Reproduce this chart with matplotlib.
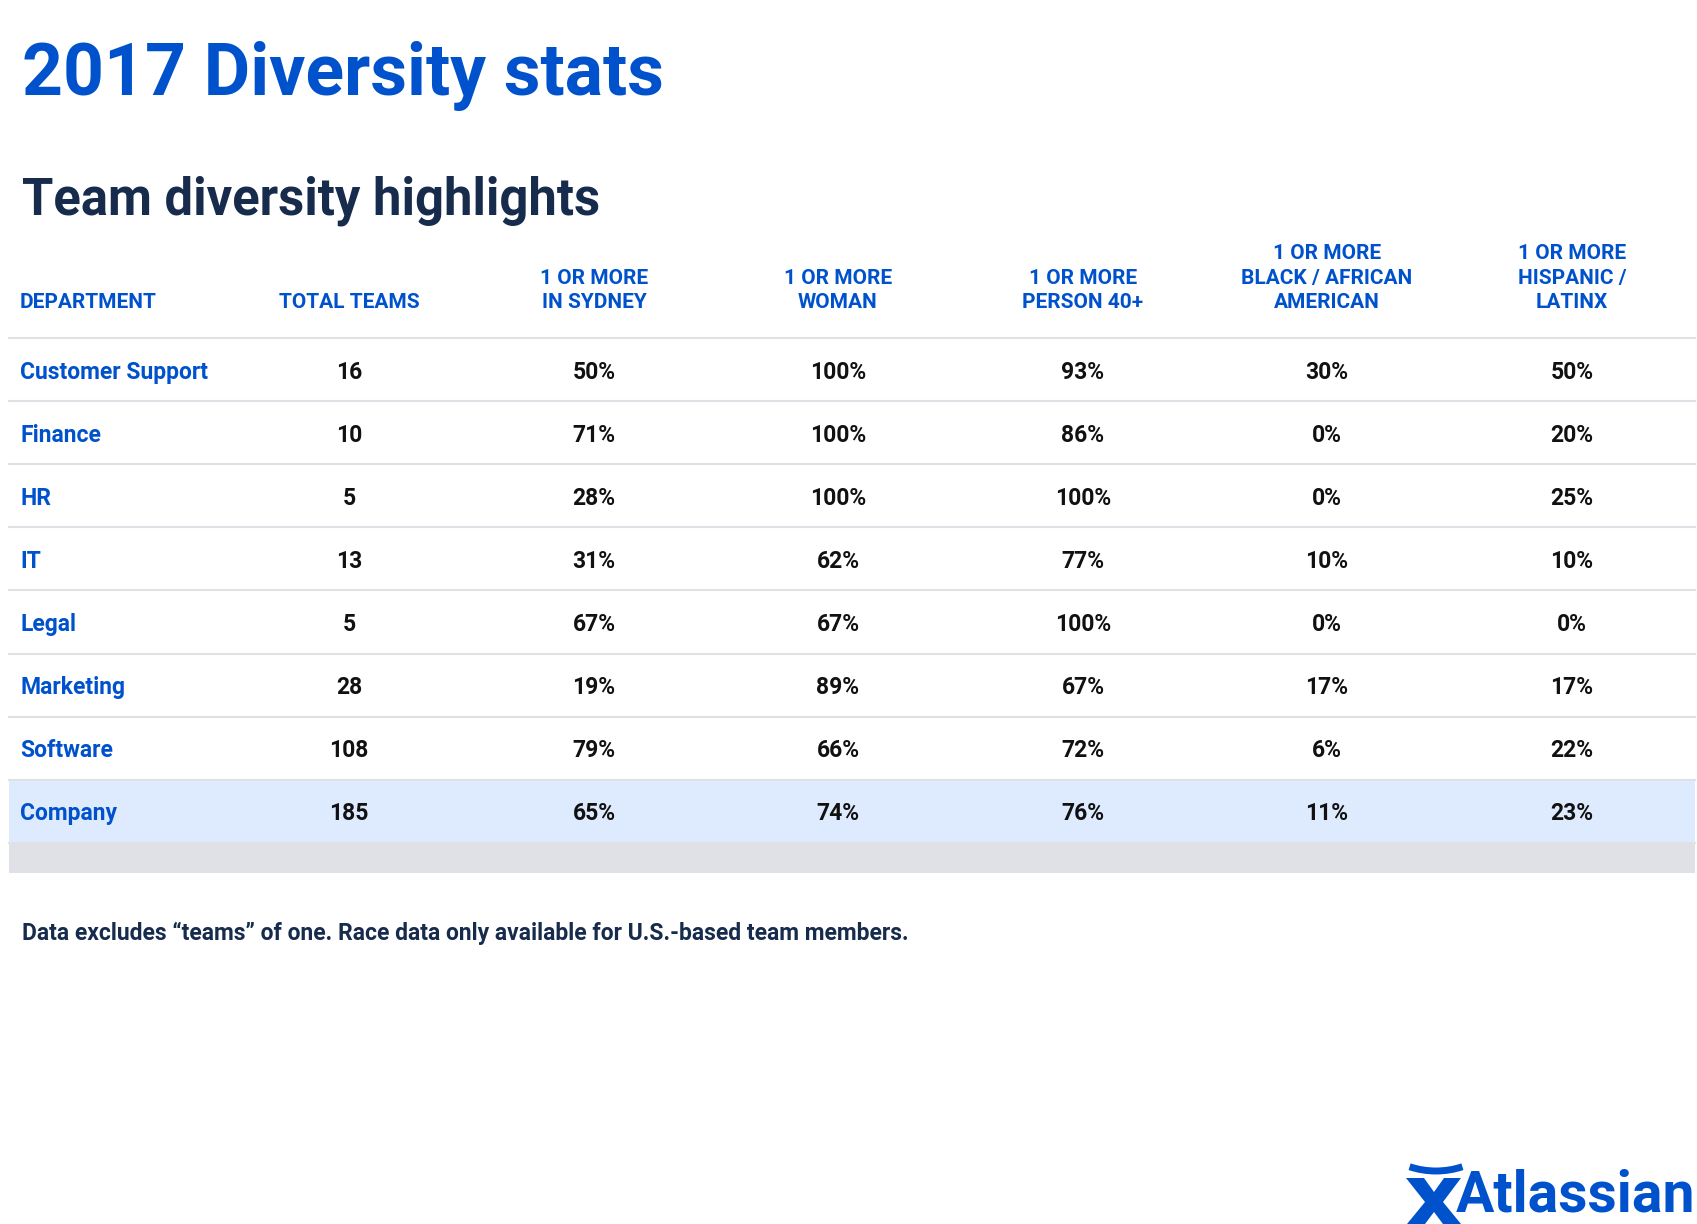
import matplotlib
matplotlib.use("Agg")
import matplotlib.pyplot as plt
from matplotlib.patches import Rectangle, Arc, Polygon

plt.rcParams['font.family'] = ['Roboto', 'DejaVu Sans']

# --- data ---
departments = ["Customer Support", "Finance", "HR", "IT", "Legal",
               "Marketing", "Software", "Company"]
total_teams = [16, 10, 5, 13, 5, 28, 108, 185]
in_sydney = [50, 71, 28, 31, 67, 19, 79, 65]
woman = [100, 100, 100, 62, 67, 89, 66, 74]
person_40 = [93, 86, 100, 77, 100, 67, 72, 76]
black_african_american = [30, 0, 0, 10, 0, 17, 6, 11]
hispanic_latinx = [50, 20, 25, 10, 0, 17, 22, 23]

headers = ["DEPARTMENT", "TOTAL TEAMS", "1 OR MORE\nIN SYDNEY", "1 OR MORE\nWOMAN",
           "1 OR MORE\nPERSON 40+", "1 OR MORE\nBLACK / AFRICAN\nAMERICAN",
           "1 OR MORE\nHISPANIC /\nLATINX"]

title = "2017 Diversity stats"
subtitle = "Team diversity highlights"
footnote = "Data excludes \u201cteams\u201d of one. Race data only available for U.S.-based team members."

BLUE = "#0052CC"
NAVY = "#172B4D"
LINE = "#DFE1E6"

W, H = 1697, 1224
fig = plt.figure(figsize=(W / 100, H / 100), dpi=100)
ax = fig.add_axes([0, 0, 1, 1])
ax.set_xlim(0, W)
ax.set_ylim(H, 0)
ax.axis("off")

ax.text(22, 95, title, fontsize=51.5, fontweight="bold", color=BLUE, va="baseline")
ax.text(22, 214, subtitle, fontsize=36.5, fontweight="bold", color=NAVY, va="baseline")

col_x = [20, 349, 594, 838, 1083, 1327, 1572]
row_top = 338
row_h = 63.1
x0, x1 = 9, 1695

# header, one line at a time so the lines sit on a fixed pitch
for i, h in enumerate(headers):
    lines = h.split("\n")
    for m, line in enumerate(lines):
        yb = 308 - (len(lines) - 1 - m) * 24.4
        ax.text(col_x[i], yb, line, fontsize=15, fontweight="bold", color=BLUE,
                ha="left" if i == 0 else "center", va="baseline")

n = len(departments)
# company row highlight + grey band
ax.add_patch(Rectangle((x0, row_top + (n - 1) * row_h), x1 - x0, row_h,
                       facecolor="#DEEBFF", edgecolor="none", zorder=0))
ax.add_patch(Rectangle((x0, row_top + n * row_h), x1 - x0, 30,
                       facecolor=LINE, edgecolor="none", zorder=0))

for k in range(n):
    y = row_top + k * row_h
    ax.plot([x0, x1], [y, y], color=LINE, lw=1.5, zorder=1)
ax.plot([x0, x1], [row_top + n * row_h] * 2, color=LINE, lw=1.5, zorder=1)

for k in range(n):
    yb = row_top + (k + 0.5) * row_h + 9
    ax.text(col_x[0], yb, departments[k], fontsize=16.5, fontweight="bold",
            color=BLUE, va="baseline", ha="left")
    vals = [str(total_teams[k]), f"{in_sydney[k]}%", f"{woman[k]}%",
            f"{person_40[k]}%", f"{black_african_american[k]}%", f"{hispanic_latinx[k]}%"]
    for j, v in enumerate(vals):
        ax.text(col_x[j + 1], yb, v, fontsize=16.5, fontweight="bold",
                color="#111111", va="baseline", ha="center")

ax.text(22, 940, footnote, fontsize=16.5, fontweight="bold", color=NAVY, va="baseline")

# logo
ax.add_patch(Arc((1436, 1121), 130, 100, theta1=60, theta2=120, color=BLUE, lw=5))
ax.add_patch(Polygon([(1406, 1178), (1424, 1178), (1434, 1192), (1444, 1178),
                      (1461, 1178), (1443, 1202), (1461, 1224), (1443, 1224),
                      (1434, 1212), (1425, 1224), (1407, 1224), (1425, 1202)],
                     closed=True, facecolor=BLUE, edgecolor="none"))
ax.text(1695, 1224, "Atlassian", fontsize=41, fontweight="bold", color=BLUE,
        ha="right", va="bottom")

fig.savefig("out.png", dpi=100, facecolor="white")
